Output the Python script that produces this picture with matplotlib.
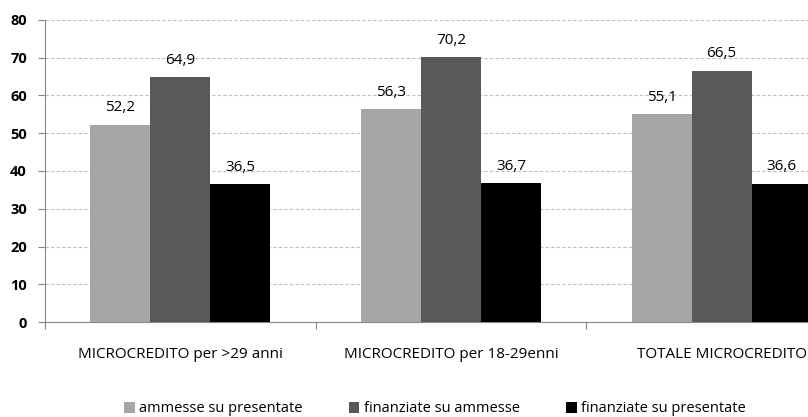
import matplotlib.pyplot as plt
import numpy as np

categories = ['MICROCREDITO per >29 anni', 'MICROCREDITO per 18-29enni', 'TOTALE MICROCREDITO']
series_names = ['ammesse su presentate', 'finanziate su ammesse', 'finanziate su presentate']
ammesse = [52.2, 56.3, 55.1]
finanziate_ammesse = [64.9, 70.2, 66.5]
finanziate_presentate = [36.5, 36.7, 36.6]
colors = ['#A6A6A6', '#595959', '#000000']

plt.rcParams['font.family'] = ['Open Sans', 'DejaVu Sans']

fig = plt.figure(figsize=(8.08, 4.17), dpi=100)
ax = fig.add_axes([45 / 808, 1 - 322 / 417, 812 / 808, 302 / 417])

x = np.arange(len(categories))
w = 0.222
for i, (vals, name) in enumerate(zip([ammesse, finanziate_ammesse, finanziate_presentate], series_names)):
    bars = ax.bar(x + (i - 1) * w, vals, w, color=colors[i], label=name, zorder=3)
    for b, v in zip(bars, vals):
        ax.text(b.get_x() + b.get_width() / 2, v + 4.5, '{:.1f}'.format(v).replace('.', ','),
                ha='center', va='center', fontsize=11)

ax.set_xlim(-0.5, 2.5)
ax.set_ylim(0, 80)
ax.set_yticks(range(0, 81, 10))
ax.set_yticklabels([str(t) for t in range(0, 81, 10)], fontweight='bold', fontsize=10.5)
ax.yaxis.grid(True, linestyle=(0, (3, 2)), color='#BFBFBF', linewidth=0.8, zorder=0)

ax.set_xticks([-0.5, 0.5, 1.5, 2.5])
ax.set_xticklabels([])
ax.set_xticks(x, minor=True)
ax.set_xticklabels(categories, minor=True, fontsize=11)
ax.tick_params(axis='x', which='minor', length=0, pad=18)
ax.tick_params(axis='x', which='major', length=5, color='#868686', direction='out')
ax.tick_params(axis='y', length=5, color='#868686', pad=8)

for s in ['top', 'right']:
    ax.spines[s].set_visible(False)
for s in ['left', 'bottom']:
    ax.spines[s].set_color('#868686')

fig.legend(loc='center', bbox_to_anchor=(435 / 808, 1 - 409 / 417), ncol=3, frameon=False,
           fontsize=10.5, handlelength=0.7, handleheight=0.7, handletextpad=0.3, columnspacing=3.2)

fig.savefig('out.png', dpi=100)
